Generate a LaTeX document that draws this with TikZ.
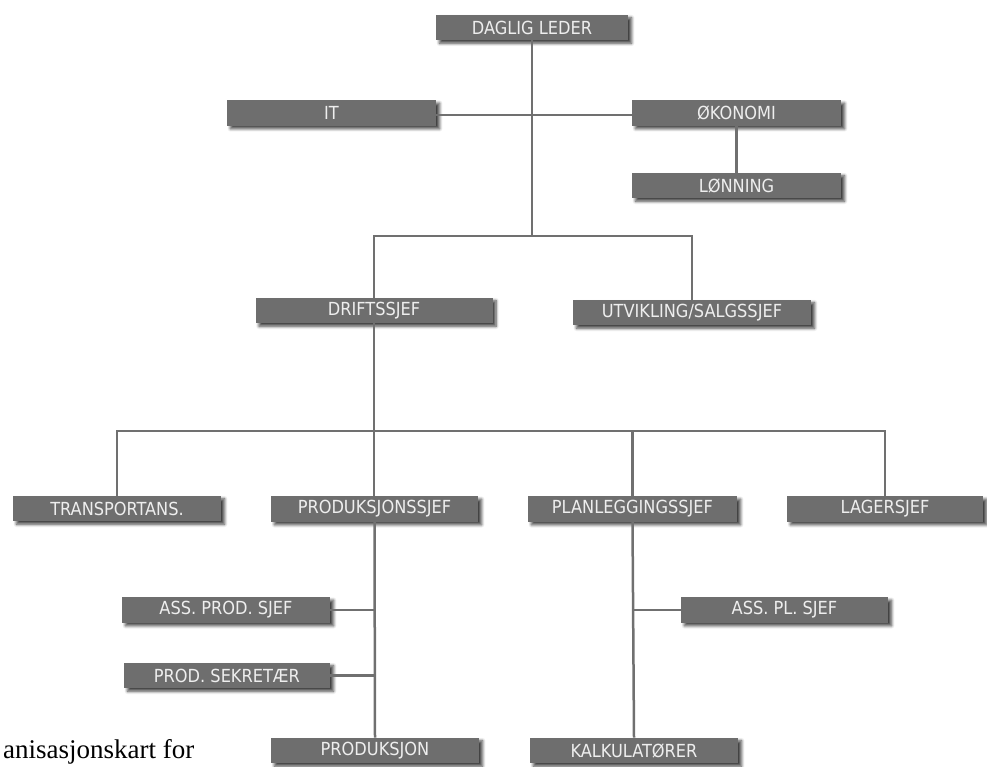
\documentclass[tikz,border=0pt]{standalone}
\usepackage{fontspec}
\setmainfont{Liberation Serif}
\newfontfamily\boxfont{DejaVu Sans Condensed}
\usetikzlibrary{shadows.blur}
\definecolor{boxgrey}{HTML}{6E6E6E}
\definecolor{linegrey}{HTML}{707070}
\definecolor{boxtext}{HTML}{EEEEEE}
\tikzset{
  orgbox/.style={fill=boxgrey, text=boxtext, inner sep=0pt,
    minimum height=25.5pt, font=\boxfont\fontsize{18}{20}\selectfont,
    blur shadow={shadow xshift=3.5pt, shadow yshift=-3pt,
      shadow opacity=75, shadow blur radius=3pt, shadow blur steps=6}},
  link/.style={draw=linegrey, line width=2.5pt}
}
\begin{document}
\begin{tikzpicture}[x=1pt, y=-1pt]
\useasboundingbox (0,0) rectangle (987,767);

% top levels
\node[orgbox, minimum width=192] (daglig) at (532,27.5) {DAGLIG LEDER};
\node[orgbox, minimum width=209] (it) at (331.5,113) {IT};
\node[orgbox, minimum width=209] (okonomi) at (736.5,113) {ØKONOMI};
\node[orgbox, minimum width=209] (lonning) at (736.5,185.5) {LØNNING};
\node[orgbox, minimum width=237] (drift) at (374,310.5) {DRIFTSSJEF};
\node[orgbox, minimum width=238] (utv) at (692,312.5) {UTVIKLING/SALGSSJEF};

% department heads
\node[orgbox, minimum width=208] (transp) at (117,508.5) {TRANSPORTANS.};
\node[orgbox, minimum width=207] (prodsjef) at (374.5,509) {PRODUKSJONSSJEF};
\node[orgbox, minimum width=209] (plan) at (632.5,509) {PLANLEGGINGSSJEF};
\node[orgbox, minimum width=196] (lager) at (885,509) {LAGERSJEF};

% lower level
\node[orgbox, minimum width=208] (assprod) at (226,610) {ASS. PROD. SJEF};
\node[orgbox, minimum width=206] (sekr) at (227,675.5) {PROD. SEKRETÆR};
\node[orgbox, minimum width=208] (produksjon) at (375,750.5) {PRODUKSJON};
\node[orgbox, minimum width=208] (kalk) at (634,750.5) {KALKULATØRER};
\node[orgbox, minimum width=207] (asspl) at (784.5,610) {ASS. PL. SJEF};

% junctions
\coordinate (j1) at (533,236);
\coordinate (j2) at (374,431);

% connectors
\path[link] (daglig.south) -- (daglig.south |- j1);
\path[link] ([yshift=-2pt]it.east) -- ([yshift=-2pt]okonomi.west);
\path[link] (okonomi.south) -- (lonning.north);
\path[link] (drift.north) |- (j1) -| (utv.north);
\path[link] (drift.south) -- (drift.south |- prodsjef.north);
\path[link] (transp.north) |- (j2) -| (lager.north);
\path[link] (plan.north) -- (plan.north |- j2);
\path[link] (prodsjef.south) -- (produksjon.north);
\path[link] (assprod.east) -- (assprod.east -| prodsjef.south);
\path[link] (sekr.east) -- (sekr.east -| prodsjef.south);
\path[link] (plan.south) -- (kalk.north);
\path[link] (asspl.west) -- (asspl.west -| plan.south);

% caption fragment
\node[anchor=base west, inner sep=0pt, font=\fontsize{27}{30}\selectfont] (caption) at (3,758) {anisasjonskart for};
\end{tikzpicture}
\end{document}
